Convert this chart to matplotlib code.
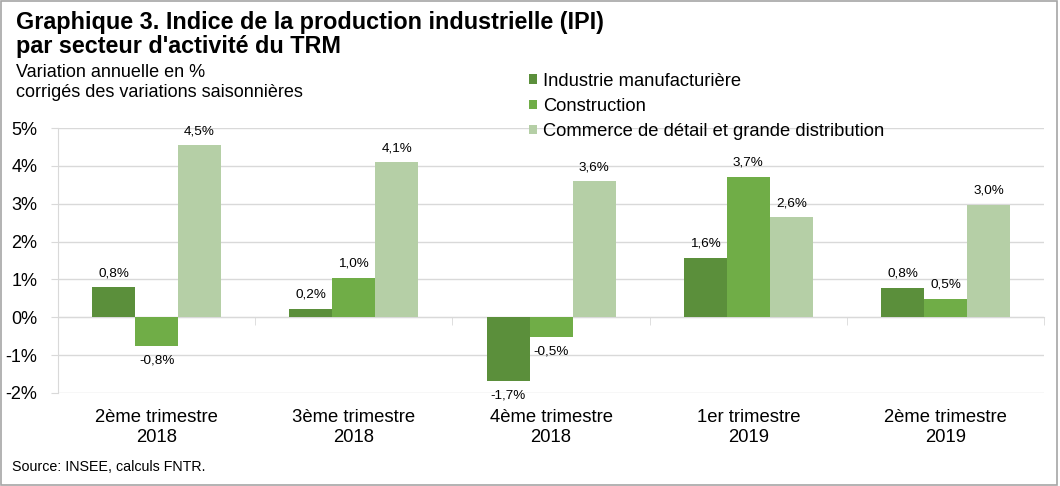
"""
IPI par secteur d'activite du TRM
"""

import numpy as np
import matplotlib.pyplot as plt
from matplotlib.patches import Rectangle

plt.rcParams["font.family"] = ["Liberation Sans", "DejaVu Sans"]

categories = ["2ème trimestre\n2018", "3ème trimestre\n2018", "4ème trimestre\n2018",
              "1er trimestre\n2019", "2ème trimestre\n2019"]
series = ["Industrie manufacturière", "Construction",
          "Commerce de détail et grande distribution"]
industrie = [0.79, 0.21, -1.69, 1.56, 0.77]
construction = [-0.77, 1.03, -0.53, 3.70, 0.48]
commerce = [4.54, 4.09, 3.59, 2.64, 2.96]
colors = ["#5B8F3B", "#70AD47", "#B5CFA6"]

fig = plt.figure(figsize=(10.6, 4.86), dpi=100)
ax = fig.add_axes([0.0547, 0.1914, 0.9303, 0.5452])

x = np.arange(len(categories))
w = 0.218
for i, (vals, name, c) in enumerate(zip([industrie, construction, commerce], series, colors)):
    bars = ax.bar(x + (i - 1) * w, vals, w, color=c, label=name, zorder=3)
    for b, v in zip(bars, vals):
        lab = f"{v:.1f}%".replace(".", ",")
        ax.annotate(lab, (b.get_x() + b.get_width() / 2, v),
                    xytext=(0, 6 if v >= 0 else -6), textcoords="offset points",
                    ha="center", va="bottom" if v >= 0 else "top", fontsize=9.7)

ax.set_xlim(-0.5, 4.5)
ax.set_ylim(-2, 5)
ax.set_yticks(range(-2, 6))
ax.set_yticklabels([f"{t}%" for t in range(-2, 6)], fontsize=13)
ax.yaxis.grid(True, color="#D9D9D9", linewidth=1, zorder=0)
ax.tick_params(axis="y", length=5, color="#D9D9D9", pad=10)

ax.spines["bottom"].set_position(("data", 0))
ax.spines["bottom"].set_color("#D9D9D9")
ax.spines["left"].set_color("#D9D9D9")
ax.spines["top"].set_visible(False)
ax.spines["right"].set_visible(False)
ax.set_xticks([])
ax.set_xticks(np.arange(-0.5, 5, 1), minor=True)
ax.tick_params(axis="x", which="minor", length=6, color="#D9D9D9")

for xi, cat in zip(x, categories):
    ax.text(xi, -0.062, cat, transform=ax.get_xaxis_transform(),
            ha="center", va="top", fontsize=13.3, linespacing=1.22)

fig.text(0.015, 0.940, "Graphique 3. Indice de la production industrielle (IPI)",
         fontsize=16.8, fontweight="bold", va="baseline")
fig.text(0.015, 0.891, "par secteur d'activité du TRM",
         fontsize=16.8, fontweight="bold", va="baseline")
fig.text(0.015, 0.841, "Variation annuelle en %", fontsize=13, va="baseline")
fig.text(0.015, 0.800, "corrigés des variations saisonnières", fontsize=13, va="baseline")
fig.text(0.011, 0.030, "Source: INSEE, calculs FNTR.", fontsize=10.3, va="baseline")

fig.legend(loc="upper left", bbox_to_anchor=(0.499, 0.850), frameon=False,
           fontsize=13.2, handlelength=0.45, handleheight=0.45, handletextpad=0.3,
           labelspacing=0.44, borderaxespad=0, borderpad=0)

fig.patches.append(Rectangle((0.001, 0.002), 0.996, 0.996, transform=fig.transFigure,
                             fill=False, edgecolor="#A6A6A6", linewidth=1.2))

fig.savefig("out.png", dpi=100)
